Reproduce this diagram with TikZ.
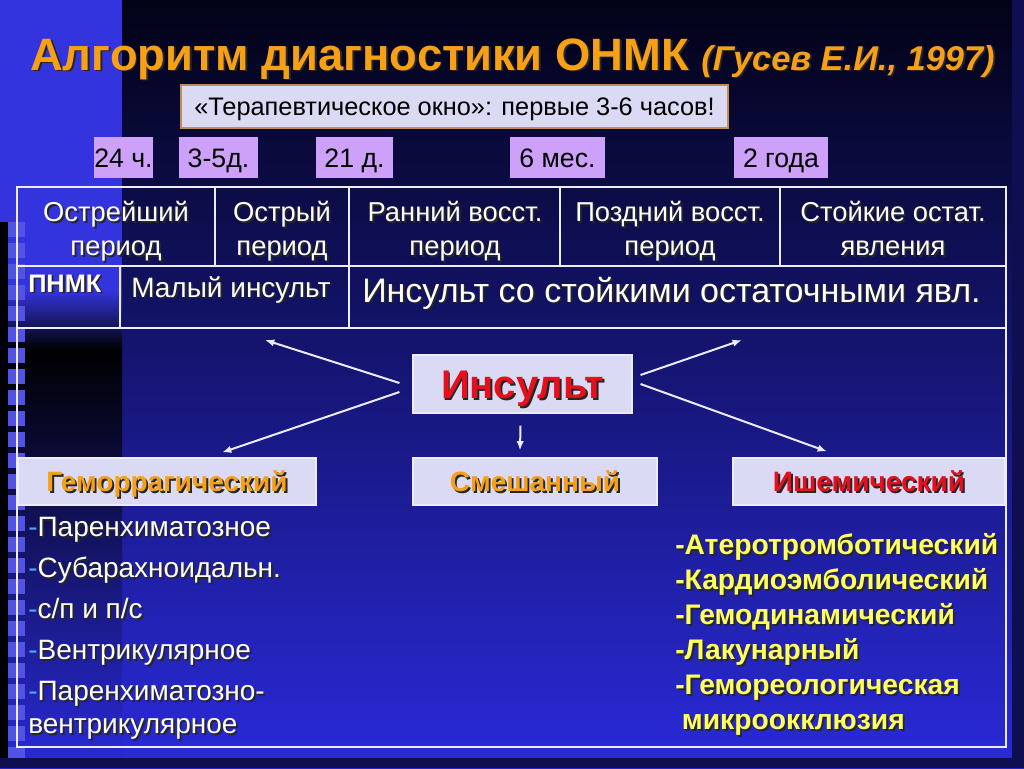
\documentclass[tikz,border=0pt]{standalone}
\usepackage{fontspec}
\setmainfont{Liberation Sans}
\usetikzlibrary{arrows.meta}

\definecolor{titleorange}{RGB}{246,160,24}
\definecolor{boxlav}{RGB}{218,218,244}
\definecolor{timeviolet}{RGB}{205,160,250}
\definecolor{strokered}{RGB}{228,16,28}
\definecolor{listyellow}{RGB}{255,255,96}
\definecolor{dashblue}{RGB}{90,160,255}
\definecolor{navytop}{RGB}{2,2,22}
\definecolor{navymid}{RGB}{22,22,125}
\definecolor{bluebottom}{RGB}{42,42,218}
\definecolor{bandblue}{RGB}{52,52,222}
\definecolor{framewhite}{RGB}{236,236,252}
\definecolor{windowedge}{RGB}{196,140,80}

\newcommand\setfs[2]{\fontsize{#1}{#2}\selectfont}
\newcommand\dropshade[2]{\rlap{\kern1.4pt\raisebox{-1.4pt}[0pt][0pt]{\color{black!85}#2}}{\color{#1}#2}}
\newcommand\ldash{{\color{dashblue}-}}

\tikzset{
	lavbox/.style={fill=boxlav, draw=framewhite, line width=0.8pt, inner sep=0pt, text depth=0pt},
	timebox/.style={fill=timeviolet, inner sep=0pt, minimum height=30.75pt, text=black, font=\setfs{20}{24},
		text height=14.3pt, text depth=0pt},
	headcell/.style={align=center, inner sep=0pt, text=white, font=\setfs{20.5}{25.5}},
	gridline/.style={draw=framewhite, line width=1.5pt},
	arrowline/.style={->, draw=framewhite, line width=1.5pt}
}

\begin{document}
\begin{tikzpicture}[x=0.75pt, y=-0.75pt, >={Latex[length=7pt,width=5.5pt]}]
	\useasboundingbox (0,0) rectangle (1024,768);
	\shade[top color=navytop, middle color=navymid, bottom color=bluebottom] (0,0) rectangle (1024,768);
	\fill[bandblue] (0,0) rectangle (122,290);
	\shade[top color=bandblue, bottom color=black] (0,290) rectangle (122,350);
	\shade[top color=black, bottom color=bluebottom] (0,350) rectangle (122,768);
	\fill[black!80!navytop] (0,222) rectangle (8,768);
	\foreach \sy in {222,243,...,750}
		\fill[bandblue!85!white] (8,\sy) rectangle (25,\sy+15);
	\fill[navytop!70!bluebottom] (1012,0) rectangle (1024,768) (0,758) rectangle (1024,768);

	\node[anchor=base west, inner sep=0pt, font=\bfseries\setfs{34}{40}] (title) at (30,70)
		{\dropshade{titleorange}{Алгоритм диагностики ОНМК {\itshape\setfs{25.8}{30}(Гусев Е.И., 1997)}}};
	\node[fill=boxlav, draw=windowedge, line width=0.8pt, minimum width=410.25pt, minimum height=32.25pt,
		inner sep=0pt, text height=13.6pt, text depth=0pt, font=\setfs{19}{22}] (window) at (454.5,106.5)
		{«Терапевтическое окно»: первые 3-6 часов!};

	\node[timebox, minimum width=44.25pt] (h24) at (123.5,157.5) {24 ч.};
	\node[timebox, minimum width=59.25pt] (d35) at (218.5,157.5) {3-5д.};
	\node[timebox, minimum width=57.75pt] (d21) at (354.5,157.5) {21 д.};
	\node[timebox, minimum width=71.25pt] (m6) at (557.5,157.5) {6 мес.};
	\node[timebox, minimum width=70.5pt] (y2) at (781,157.5) {2 года};

	\draw[gridline] (17,187) rectangle (1006,747);
	\draw[gridline] (17,266) -- (1006,266) (17,328) -- (1006,328);
	\draw[gridline] (215,187) -- (215,266) (349,187) -- (349,328) (560,187) -- (560,266)
		(780,187) -- (780,266) (120,266) -- (120,328);

	\node[headcell] (acutest) at (116,232) {\strut\dropshade{white}{Острейший}\\\strut\dropshade{white}{период}};
	\node[headcell] (acute) at (282,232) {\strut\dropshade{white}{Острый}\\\strut\dropshade{white}{период}};
	\node[headcell] (earlyrec) at (455,232) {\strut\dropshade{white}{Ранний восст.}\\\strut\dropshade{white}{период}};
	\node[headcell] (laterec) at (670,232) {\strut\dropshade{white}{Поздний восст.}\\\strut\dropshade{white}{период}};
	\node[headcell] (residual) at (893,232) {\strut\dropshade{white}{Стойкие остат.}\\\strut\dropshade{white}{явления}};

	\node[anchor=base west, inner sep=0pt, font=\bfseries\setfs{19}{22}] (pnmk) at (28,292) {\dropshade{white}{ПНМК}};
	\node[anchor=base west, inner sep=0pt, font=\setfs{21}{24}] (minor) at (131,297) {\dropshade{white}{Малый инсульт}};
	\node[anchor=base west, inner sep=0pt, font=\setfs{25.5}{30}] (lasting) at (362,302)
		{\dropshade{white}{Инсульт со стойкими остаточными явл.}};

	\node[lavbox, minimum width=164.25pt, minimum height=43.5pt, text height=21.5pt, font=\bfseries\setfs{30}{36}] (ins)
		at (522.5,384) {\dropshade{strokered}{Инсульт}};
	\node[lavbox, minimum width=223.5pt, minimum height=35.25pt, text height=15pt, font=\bfseries\setfs{21}{24}] (hem)
		at (167,481.5) {\dropshade{titleorange}{Геморрагический}};
	\node[lavbox, minimum width=183pt, minimum height=35.25pt, text height=15pt, font=\bfseries\setfs{21}{24}] (mix)
		at (535,481.5) {\dropshade{titleorange}{Смешанный}};
	\node[lavbox, minimum width=204pt, minimum height=35.25pt, text height=15pt, font=\bfseries\setfs{21}{24}] (isc)
		at (869,481.5) {\dropshade{strokered}{Ишемический}};

	\coordinate (acutetip) at (265,340);
	\coordinate (residualtip) at (742,340);
	\draw[arrowline] ([shift={(-13,-1)}]ins.west) -- (acutetip);
	\draw[arrowline] ([shift={(-13,8)}]ins.west) -- ([shift={(55,-5)}]hem.north);
	\draw[arrowline] ([shift={(8,-9)}]ins.east) -- (residualtip);
	\draw[arrowline] ([shift={(8,0)}]ins.east) -- ([shift={(-42,-6)}]isc.north);
	\draw[arrowline] ([shift={(-2,12)}]ins.south) -- ([shift={(-15,-7)}]mix.north);

	\node[anchor=north west, inner sep=0pt, align=left, font=\setfs{21}{30.75}] (hemlist) at (28,517)
		{\ldash\dropshade{white}{Паренхиматозное}\\
		\ldash\dropshade{white}{Субарахноидальн.}\\
		\ldash\dropshade{white}{с/п и п/с}\\
		\ldash\dropshade{white}{Вентрикулярное}\\
		\ldash\dropshade{white}{Паренхиматозно-}\\[-6pt]
		\dropshade{white}{вентрикулярное}};
	\node[anchor=north west, inner sep=0pt, align=left, font=\bfseries\setfs{21.2}{26.25}] (isclist) at (675,533)
		{\dropshade{listyellow}{-Атеротромботический}\\
		\dropshade{listyellow}{-Кардиоэмболический}\\
		\dropshade{listyellow}{-Гемодинамический}\\
		\dropshade{listyellow}{-Лакунарный}\\
		\dropshade{listyellow}{-Гемореологическая}\\
		\hspace{5pt}\dropshade{listyellow}{микроокклюзия}};
\end{tikzpicture}
\end{document}
